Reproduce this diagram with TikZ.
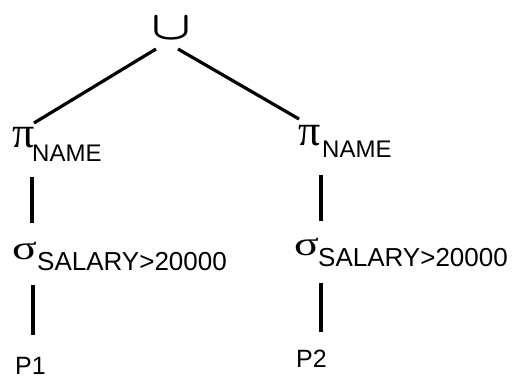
\documentclass[tikz,border=0pt]{standalone}
\usepackage{fontspec}
\usepackage{graphicx}
\setmainfont{Liberation Sans}
\newfontfamily\gk{Liberation Serif}
% operator glyph followed by a lowered subscript
\newcommand\opsub[4]{\makebox[#1][l]{#2}\lower#3\hbox{#4}}
\begin{document}
\begin{tikzpicture}[x=1pt,y=-1pt,
  edge/.style={line width=3.2pt},
  setop/.style={inner sep=0pt, anchor=base},
  relop/.style={inner sep=0pt, anchor=base west},
  leaf/.style={inner sep=0pt, anchor=base west, font=\fontsize{25}{25}\selectfont}]
\useasboundingbox (0,0) rectangle (512,385);

% union at the root
\node[setop] (u) at (171,40)
  {\scalebox{5.2}[4.0]{\boldmath$\cup$}};

% projections
\node[relop] (pi1) at (12,148)
  {\opsub{20pt}{\gk\fontsize{44}{44}\selectfont π}{14pt}{\fontsize{24}{24}\selectfont NAME}};
\node[relop] (pi2) at (298,146)
  {\opsub{24pt}{\gk\fontsize{44}{44}\selectfont π}{12pt}{\fontsize{24}{24}\selectfont NAME}};

% selections
\node[relop] (sg1) at (12,259)
  {\opsub{25pt}{\scalebox{1.35}[1]{\gk\fontsize{34}{34}\selectfont σ}}{12pt}{\fontsize{26}{26}\selectfont SALARY>20000}};
\node[relop] (sg2) at (294,255)
  {\opsub{24pt}{\scalebox{1.35}[1]{\gk\fontsize{34}{34}\selectfont σ}}{11pt}{\fontsize{26}{26}\selectfont SALARY>20000}};

% base relations
\node[leaf] (p1) at (15,374) {P1};
\node[leaf] (p2) at (296,367) {P2};

% edges
\draw[edge] ([shift={(-15,9)}]u.base) -- ([shift={(22,-25)}]pi1.base west);
\draw[edge] ([shift={(7,9)}]u.base) -- ([shift={(1,-27)}]pi2.base west);
\draw[edge] ([shift={(20,29)}]pi1.base west) -- ([shift={(20,-36)}]sg1.base west);
\draw[edge] ([shift={(21,26)}]sg1.base west) -- ([shift={(18,-39)}]p1.base west);
\draw[edge] ([shift={(23,29)}]pi2.base west) -- ([shift={(27,-34)}]sg2.base west);
\draw[edge] ([shift={(27,28)}]sg2.base west) -- ([shift={(25,-35)}]p2.base west);
\end{tikzpicture}
\end{document}
